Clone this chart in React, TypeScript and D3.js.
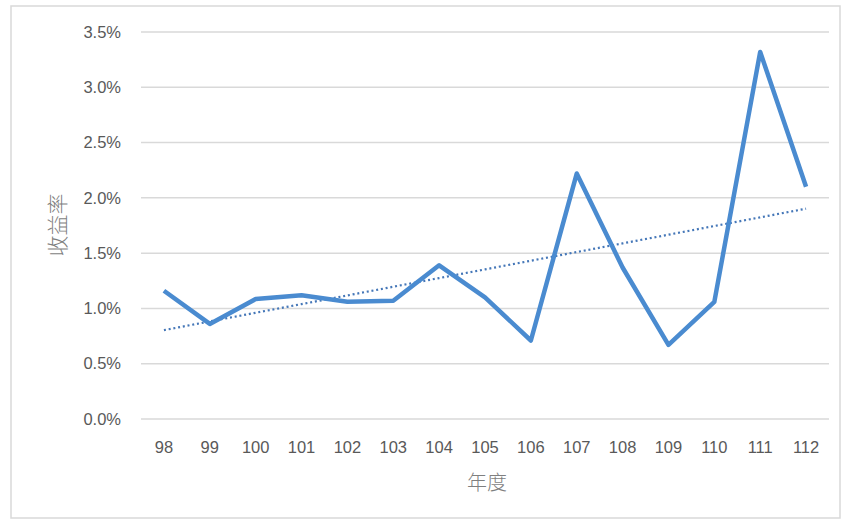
import React from "react";
import * as d3 from "d3";

const years = ["98","99","100","101","102","103","104","105","106","107","108","109","110","111","112"];
const returns = [1.16,0.86,1.085,1.12,1.06,1.07,1.39,1.10,0.71,2.22,1.37,0.67,1.06,3.32,2.10];
const yTicks = [0,0.5,1.0,1.5,2.0,2.5,3.0,3.5];
const yTitle = "收益率";
const xTitle = "年度";

export default function App() {
  const W = 845, H = 521;
  const left = 141, right = 829, top = 32, bottom = 419;
  const x = d3.scaleBand<string>().domain(years).range([left, right]);
  const y = d3.scaleLinear().domain([0, 3.5]).range([bottom, top]);
  const cx = (d: string) => (x(d) as number) + x.bandwidth() / 2;

  const line = d3.line<number>().x((_, i) => cx(years[i])).y(d => y(d));

  // linear trendline (least squares) over category index
  const idx = returns.map((_, i) => i);
  const mx = d3.mean(idx) as number;
  const my = d3.mean(returns) as number;
  const slope = d3.sum(idx, i => (i - mx) * (returns[i] - my)) / d3.sum(idx, i => (i - mx) ** 2);
  const icpt = my - slope * mx;
  const trend = idx.map(i => icpt + slope * i);

  const font = "'Liberation Sans', 'Noto Sans', sans-serif";
  const cjk = "'Noto Sans CJK TC', 'Noto Sans CJK SC', sans-serif";

  return (
    <svg width={W} height={H} style={{ position: "absolute", left: 0, top: 0, background: "#fff" }}>
      <rect x={11} y={6} width={829} height={512} fill="#fff" stroke="#d9d9d9" strokeWidth={1.5} />
      {yTicks.map(t => (
        <g key={t}>
          <line x1={left} x2={right} y1={y(t)} y2={y(t)} stroke="#d9d9d9" strokeWidth={1.5} />
          <text x={121} y={y(t)} dy="0.35em" textAnchor="end" fontFamily={font} fontSize={16.5} fill="#595959">
            {t.toFixed(1) + "%"}
          </text>
        </g>
      ))}
      {years.map(yr => (
        <text key={yr} x={cx(yr)} y={447} dy="0.35em" textAnchor="middle" fontFamily={font} fontSize={16.5} fill="#595959">
          {yr}
        </text>
      ))}
      <path d={line(trend) as string} fill="none" stroke="#4577b8" strokeWidth={2.2} strokeDasharray="2 2.8" />
      <path d={line(returns) as string} fill="none" stroke="#4a8bd0" strokeWidth={4.5} strokeLinejoin="round" strokeLinecap="butt" />
      <text x={58} y={225} transform="rotate(-90 58 225)" textAnchor="middle" dy="0.35em" fontFamily={cjk} fontWeight={300} fontSize={21} fill="#7f7f7f">
        {yTitle}
      </text>
      <text x={487} y={483} textAnchor="middle" dy="0.35em" fontFamily={cjk} fontWeight={300} fontSize={20} fill="#7f7f7f">
        {xTitle}
      </text>
    </svg>
  );
}
